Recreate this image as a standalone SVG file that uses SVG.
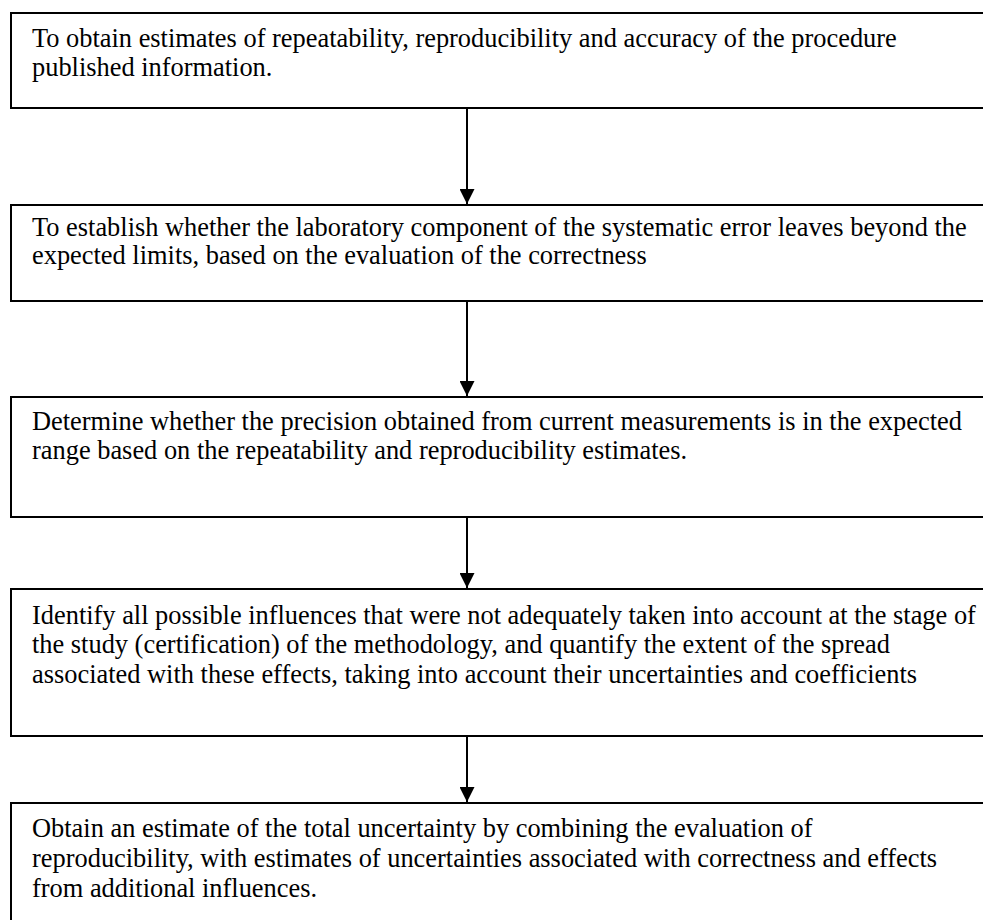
<svg xmlns="http://www.w3.org/2000/svg" width="983" height="920" viewBox="0 0 983 920">
<defs>
<style>
.box{fill:#fff;stroke:#000;stroke-width:2}
.t{font-family:"Liberation Serif","Times New Roman",serif;font-size:26.4px;fill:#000}
.c{stroke:#000;stroke-width:2;fill:none}
</style>
<marker id="ah" markerUnits="userSpaceOnUse" markerWidth="16" markerHeight="15" refX="15" refY="7.5" orient="auto" viewBox="0 0 15 15">
<path d="M0,0 L15,7.5 L0,15 Z" fill="#000"/>
</marker>
</defs>
<rect width="983" height="920" fill="#fff"/>
<g id="connectors">
<line class="c" x1="467" y1="108" x2="467" y2="204" marker-end="url(#ah)"/>
<line class="c" x1="467" y1="301" x2="467" y2="396" marker-end="url(#ah)"/>
<line class="c" x1="467" y1="517" x2="467" y2="588" marker-end="url(#ah)"/>
<line class="c" x1="467" y1="736" x2="467" y2="802" marker-end="url(#ah)"/>
</g>
<g id="n1">
<rect class="box" x="11" y="13" width="990" height="95"/>
<text class="t" x="32" y="47">To obtain estimates of repeatability, reproducibility and accuracy of the procedure</text>
<text class="t" x="32" y="76">published information.</text>
</g>
<g id="n2">
<rect class="box" x="11" y="205" width="990" height="96"/>
<text class="t" x="32" y="236">To establish whether the laboratory component of the systematic error leaves beyond the</text>
<text class="t" x="32" y="264">expected limits, based on the evaluation of the correctness</text>
</g>
<g id="n3">
<rect class="box" x="11" y="397" width="990" height="120"/>
<text class="t" x="32" y="430">Determine whether the precision obtained from current measurements is in the expected</text>
<text class="t" x="32" y="459">range based on the repeatability and reproducibility estimates.</text>
</g>
<g id="n4">
<rect class="box" x="11" y="589" width="990" height="147"/>
<text class="t" x="32" y="624">Identify all possible influences that were not adequately taken into account at the stage of</text>
<text class="t" x="32" y="653">the study (certification) of the methodology, and quantify the extent of the spread</text>
<text class="t" x="32" y="683">associated with these effects, taking into account their uncertainties and coefficients</text>
</g>
<g id="n5">
<rect class="box" x="11" y="803" width="990" height="140"/>
<text class="t" x="32" y="837">Obtain an estimate of the total uncertainty by combining the evaluation of</text>
<text class="t" x="32" y="867">reproducibility, with estimates of uncertainties associated with correctness and effects</text>
<text class="t" x="32" y="897">from additional influences.</text>
</g>
</svg>
